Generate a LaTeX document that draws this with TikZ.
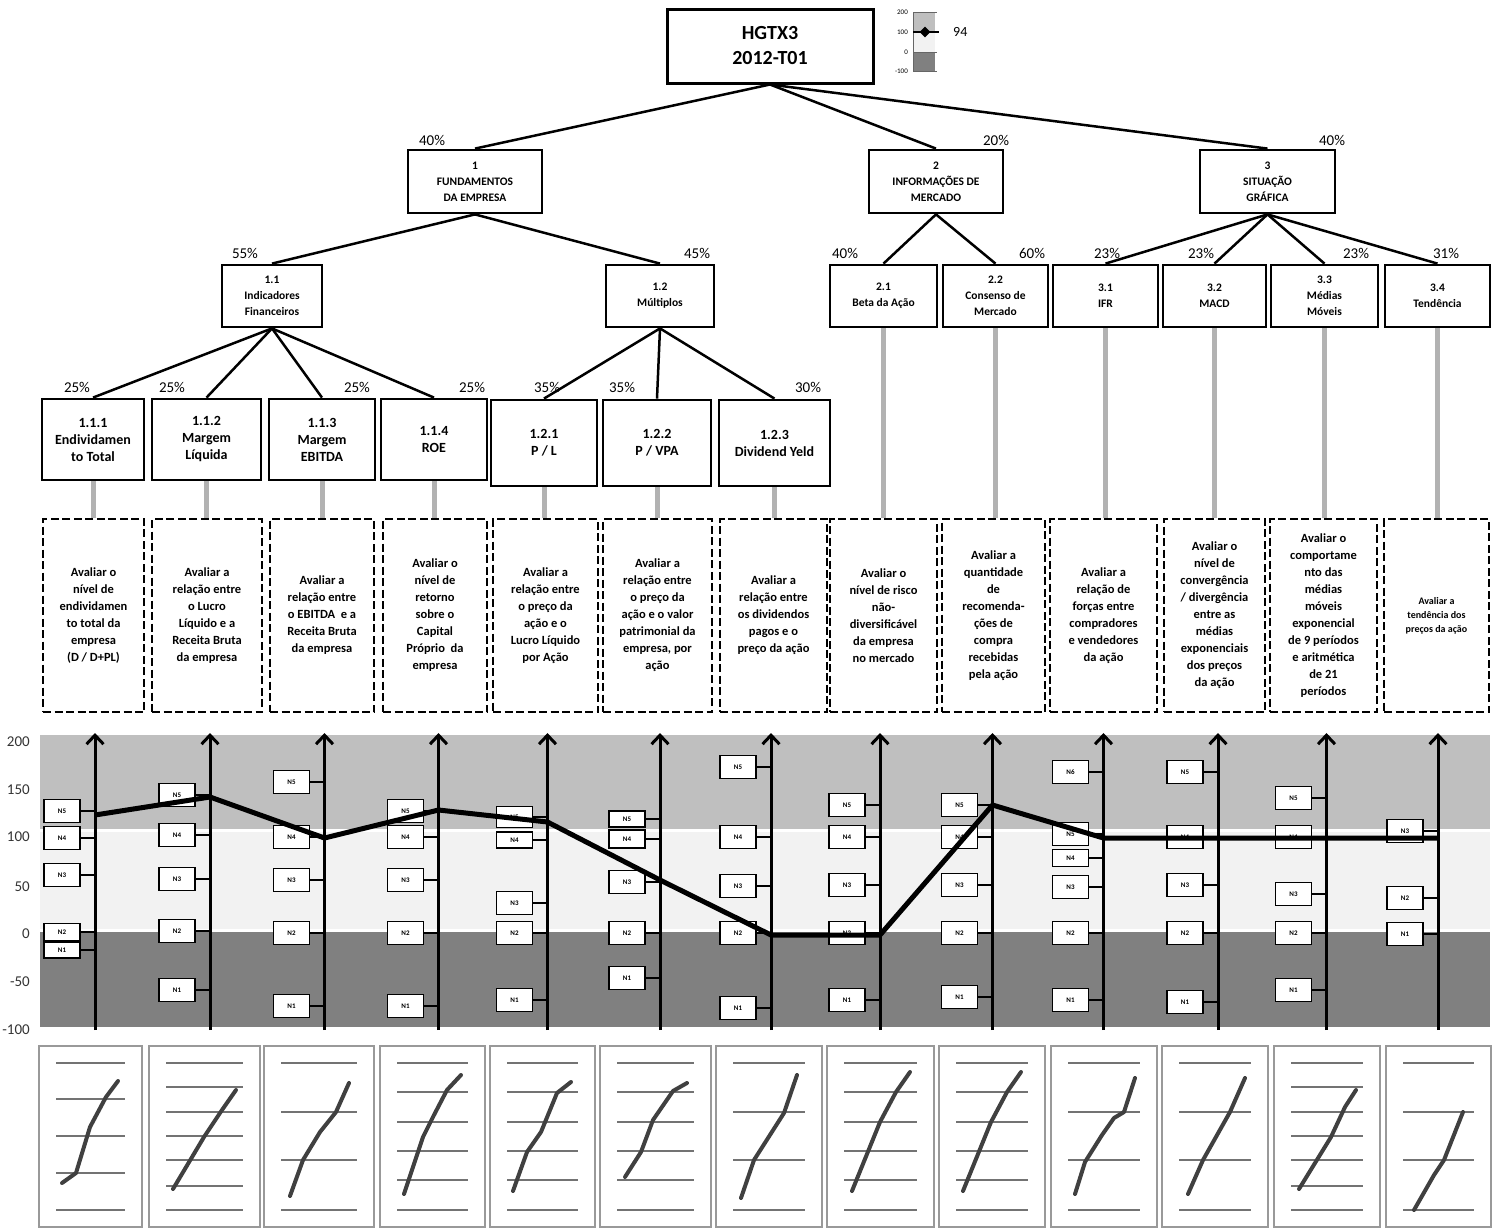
\documentclass[tikz,border=0pt]{standalone}
\usepackage{fontspec}
\setmainfont{Carlito}
\usetikzlibrary{arrows.meta,shapes.geometric}

\begin{document}
\begin{tikzpicture}[x=1pt,y=-1pt,
    box/.style={draw,line width=2.8pt,align=center,inner sep=0pt,font=\bfseries\fontsize{11.5}{16}\selectfont},
    leaf/.style={box,font=\bfseries\fontsize{14}{17}\selectfont},
    desc/.style={draw,dash pattern=on 8pt off 3.5pt,line width=2.8pt,align=center,inner sep=0pt,
      minimum height=193,font=\bfseries\fontsize{12.5}{17}\selectfont},
    pct/.style={inner sep=0pt,font=\fontsize{15}{15}\selectfont},
    tree/.style={line width=2.5pt},
    glink/.style={line width=5pt,black!30},
    lvl/.style={draw,fill=white,line width=1.8pt,minimum width=36,inner sep=0pt,font=\bfseries\fontsize{7}{7}\selectfont},
    crit/.style={line width=3pt,-{Straight Barb[length=9pt,width=17pt]}},
    score/.style={line width=5pt,line join=round},
    mini/.style={draw=black!40,line width=1.5pt,minimum height=181,inner sep=0pt},
    rule/.style={black!55,line width=1.3pt},
    curve/.style={black!75,line width=4pt,line cap=round,line join=round}
  ]
  \useasboundingbox (0,0) rectangle (1492,1229);

  \node[box,line width=3pt,minimum width=206,minimum height=74,font=\bfseries\fontsize{20}{25}\selectfont] (root) at (770,46) {HGTX3\\2012-T01};

  \fill[black!25] (913,12) rectangle (935,32);
  \fill[black!5] (913,32) rectangle (935,52);
  \fill[black!50] (913,52) rectangle (935,71);
  \draw[black!60,line width=1pt] (913,12) -- (913,71);
  \foreach \v/\y in {200/12,100/32,0/52,-100/71} {
    \draw[black!60,line width=1pt] (913,\y) -- (937,\y);
    \node[anchor=east,inner sep=0pt,font=\fontsize{7}{7}\selectfont] (g\v) at (908,\y) {\v};
  }
  \draw[line width=1.2pt] (913,32) -- (939,32);
  \node[diamond,fill,inner sep=0pt,minimum size=11] (gd) at (925,32) {};
  \node[anchor=west,inner sep=0pt,font=\fontsize{14}{14}\selectfont] (gv) at (953,32) {94};

  \node[box,minimum width=134,minimum height=63] (f1) at (475,181.5) {1\\FUNDAMENTOS\\DA EMPRESA};
  \node[box,minimum width=134,minimum height=63] (f2) at (936,181.5) {2\\INFORMAÇÕES DE\\MERCADO};
  \node[box,minimum width=135,minimum height=63] (f3) at (1267.5,181.5) {3\\SITUAÇÃO\\GRÁFICA};

  \node[box,minimum width=100,minimum height=62] (f11) at (272,296) {1.1\\Indicadores\\Financeiros};
  \node[box,minimum width=108,minimum height=62] (f12) at (660,296) {1.2\\Múltiplos};
  \node[box,minimum width=107,minimum height=62] (f21) at (883.5,296) {2.1\\Beta da Ação};
  \node[box,minimum width=105,minimum height=62] (f22) at (995.5,296) {2.2\\Consenso de\\Mercado};
  \node[box,minimum width=105,minimum height=62] (f31) at (1105.5,296) {3.1\\IFR};
  \node[box,minimum width=103,minimum height=62] (f32) at (1214.5,296) {3.2\\MACD};
  \node[box,minimum width=107,minimum height=62] (f33) at (1324.5,296) {3.3\\Médias\\Móveis};
  \node[box,minimum width=105,minimum height=62] (f34) at (1437.5,296) {3.4\\Tendência};

  \node[leaf,minimum width=102,minimum height=81] (f111) at (93,439.5) {1.1.1\\Endividamen\\to Total};
  \node[leaf,minimum width=109,minimum height=81] (f112) at (206.5,439.5) {1.1.2\\Margem\\Líquida};
  \node[leaf,minimum width=106,minimum height=81] (f113) at (322,439.5) {1.1.3\\Margem\\EBITDA};
  \node[leaf,minimum width=106,minimum height=81] (f114) at (434,439.5) {1.1.4\\ROE};
  \node[leaf,minimum width=106,minimum height=86] (f121) at (544,443) {1.2.1\\P / L};
  \node[leaf,minimum width=108,minimum height=86] (f122) at (657,443) {1.2.2\\P / VPA};
  \node[leaf,minimum width=111,minimum height=86] (f123) at (774.5,443) {1.2.3\\Dividend Yeld};

  \foreach \a in {f1,f2,f3} \draw[tree] (root.south) -- (\a.north);
  \foreach \a in {f11,f12} \draw[tree] (f1.south) -- (\a.north);
  \foreach \a in {f21,f22} \draw[tree] (f2.south) -- (\a.north);
  \foreach \a in {f31,f32,f33,f34} \draw[tree] (f3.south) -- (\a.north);
  \foreach \a in {f111,f112,f113,f114} \draw[tree] (f11.south) -- (\a.north);
  \foreach \a in {f121,f122,f123} \draw[tree] (f12.south) -- (\a.north);

  \foreach \p/\x/\y [count=\k] in {40\%/432/140,20\%/996/140,40\%/1332/140,
      55\%/245/253,45\%/697/253,40\%/845/253,60\%/1032/253,23\%/1107/253,23\%/1201/253,23\%/1356/253,31\%/1446/253,
      25\%/77/387,25\%/172/387,25\%/357/387,25\%/472/387,35\%/547/387,35\%/622/387,30\%/808/387}
    \node[pct] (pc\k) at (\x,\y) {\p};

  \node[desc,minimum width=101] (d1) at (93.5,615.5) {Avaliar o\\nível de\\endividamen\\to total da\\empresa\\(D / D+PL)};
  \node[desc,minimum width=110] (d2) at (207,615.5) {Avaliar a\\relação entre\\o Lucro\\Líquido e a\\Receita Bruta\\da empresa};
  \node[desc,minimum width=104] (d3) at (322,615.5) {Avaliar a\\relação entre\\o EBITDA\ \ e a\\Receita Bruta\\da empresa};
  \node[desc,minimum width=104] (d4) at (435,615.5) {Avaliar o\\nível de\\retorno\\sobre o\\Capital\\Próprio\ \ da\\empresa};
  \node[desc,minimum width=105] (d5) at (545.5,615.5) {Avaliar a\\relação entre\\o preço da\\ação e o\\Lucro Líquido\\por Ação};
  \node[desc,minimum width=109] (d6) at (657.5,615.5) {Avaliar a\\relação entre\\o preço da\\ação e o valor\\patrimonial da\\empresa, por\\ação};
  \node[desc,minimum width=107] (d7) at (773.5,615.5) {Avaliar a\\relação entre\\os dividendos\\pagos e o\\preço da ação};
  \node[desc,minimum width=107] (d8) at (883.5,615.5) {Avaliar o\\nível de risco\\não-\\diversificável\\da empresa\\no mercado};
  \node[desc,minimum width=103] (d9) at (993.5,615.5) {Avaliar a\\quantidade\\de\\recomenda-\\ções de\\compra\\recebidas\\pela ação};
  \node[desc,minimum width=107] (d10) at (1103.5,615.5) {Avaliar a\\relação de\\forças entre\\compradores\\e vendedores\\da ação};
  \node[desc,minimum width=101] (d11) at (1214.5,615.5) {Avaliar o\\nível de\\convergência\\/ divergência\\entre as\\médias\\exponenciais\\dos preços\\da ação};
  \node[desc,minimum width=107] (d12) at (1323.5,615.5) {Avaliar o\\comportame\\nto das\\médias\\móveis\\exponencial\\de 9 períodos\\e aritmética\\de 21\\períodos};
  \node[desc,minimum width=105,font=\bfseries\fontsize{10}{14}\selectfont] (d13) at (1436.5,615.5) {Avaliar a\\tendência dos\\preços da ação};

  \foreach \a [count=\i] in {f111,f112,f113,f114,f121,f122,f123,f21,f22,f31,f32,f33,f34}
    \draw[glink] (\a.south) -- (\a.south |- d\i.north);

  \fill[black!25] (40,735) rectangle (1490,829);
  \fill[black!5] (40,832) rectangle (1490,929);
  \fill[black!50] (40,932) rectangle (1490,1027);
  \foreach \v/\y in {200/742,150/790,100/837,50/887,0/934,-50/982,-100/1030}
    \node[anchor=east,inner sep=0pt,black!80,font=\fontsize{15}{15}\selectfont] (ax\v) at (30,\y) {\v};

  \foreach \x/\s/\lst [count=\i] in {
      95/815/{N5/811/23,N4/838/23,N3/875/23,N2/932/17,N1/950/16},
      210/797/{N5/795/23,N4/835/23,N3/879/23,N2/931/23,N1/990/23},
      324.5/838/{N5/782/23,N4/837/23,N3/880/23,N2/933/23,N1/1006/23},
      438.5/810/{N5/811/23,N4/837/23,N3/880/23,N2/933/23,N1/1006/23},
      547.5/822/{N5/817/21,N4/840/16,N3/903/23,N2/933/23,N1/1000/23},
      660/880/{N5/819/16,N4/839/18,N3/882/23,N2/933/23,N1/978/23},
      771/935/{N5/767/23,N4/837/23,N3/886/23,N2/933/23,N1/1008/23},
      880/935/{N5/805/23,N4/837/23,N3/885/23,N2/933/23,N1/1000/23},
      992.5/805/{N5/805/23,N4/837/23,N3/885/23,N2/933/23,N1/997/23},
      1103.5/838/{N6/772/23,N5/834/23,N4/858/17,N3/887/23,N2/933/23,N1/1000/23},
      1218/838/{N5/772/23,N4/837/23,N3/885/23,N2/933/23,N1/1002/23},
      1326.5/838/{N5/798/23,N4/837/23,N3/894/23,N2/933/23,N1/990/23},
      1438/838/{N3/831/23,N2/898/23,N1/934/23}} {
    \coordinate (a\i) at (\x,1030);
    \coordinate (t\i) at (\x,733);
    \coordinate (p\i) at (\x,\s);
    \draw[crit] (a\i) -- (t\i);
    \foreach \n/\y/\h in \lst {
      \node[lvl,minimum height=\h] (n\i\n) at (\x-33,\y) {\n};
      \draw[line width=1.2pt] (n\i\n.east) -- (n\i\n.east -| a\i);
    }
  }
  \draw[score] (p1) \foreach \i in {2,...,13} {-- (p\i)};

  \foreach \l/\r/\lines [count=\i] in {
      39/142/{1063,1099,1136,1173,1210},
      149/260/{1063,1087,1112,1136,1160,1186,1210},
      264/374/{1063,1112,1160,1210},
      380/485/{1063,1092,1122,1151,1180,1210},
      490/595/{1063,1092,1122,1151,1180,1210},
      600/711/{1063,1092,1122,1151,1180,1210},
      716/822/{1063,1112,1160,1210},
      827/934/{1063,1092,1122,1151,1180,1210},
      939/1045/{1063,1092,1122,1151,1180,1210},
      1051/1157/{1063,1112,1160,1210},
      1162/1268/{1063,1112,1160,1210},
      1274/1380/{1063,1087,1112,1136,1160,1186,1210},
      1386/1491/{1063,1112,1160,1210}} {
    \node[mini,minimum width=\r-\l] (m\i) at ({(\l+\r)/2},1136.5) {};
    \foreach \y in \lines \draw[rule] (\l+17,\y) -- (\r-17,\y);
  }

  \draw[curve] (62,1183) -- (76,1173) -- (90,1127) -- (106,1097) -- (118,1081);
  \draw[curve] (173,1189) -- (204,1137) -- (222,1110) -- (236,1090);
  \draw[curve] (290,1196) -- (303,1160) -- (320,1132) -- (336,1112) -- (349,1083);
  \draw[curve] (404,1194) -- (423,1137) -- (434,1115) -- (447,1090) -- (461,1075);
  \draw[curve] (513,1191) -- (527,1152) -- (541,1132) -- (557,1093) -- (571,1082);
  \draw[curve] (625,1177) -- (641,1152) -- (653,1120) -- (673,1091) -- (687,1083);
  \draw[curve] (741,1198) -- (754,1160) -- (784,1113) -- (797,1075);
  \draw[curve] (852,1191) -- (880,1122) -- (896,1092) -- (910,1072);
  \draw[curve] (963,1191) -- (991,1122) -- (1007,1092) -- (1021,1072);
  \draw[curve] (1075,1194) -- (1085,1162) -- (1102,1135) -- (1114,1118) -- (1124,1112) -- (1135,1078);
  \draw[curve] (1188,1194) -- (1203,1160) -- (1230,1112) -- (1245,1078);
  \draw[curve] (1299,1189) -- (1331,1137) -- (1345,1107) -- (1356,1090);
  \draw[curve] (1414,1210) -- (1434,1175) -- (1444,1160) -- (1463,1112);
\end{tikzpicture}
\end{document}
